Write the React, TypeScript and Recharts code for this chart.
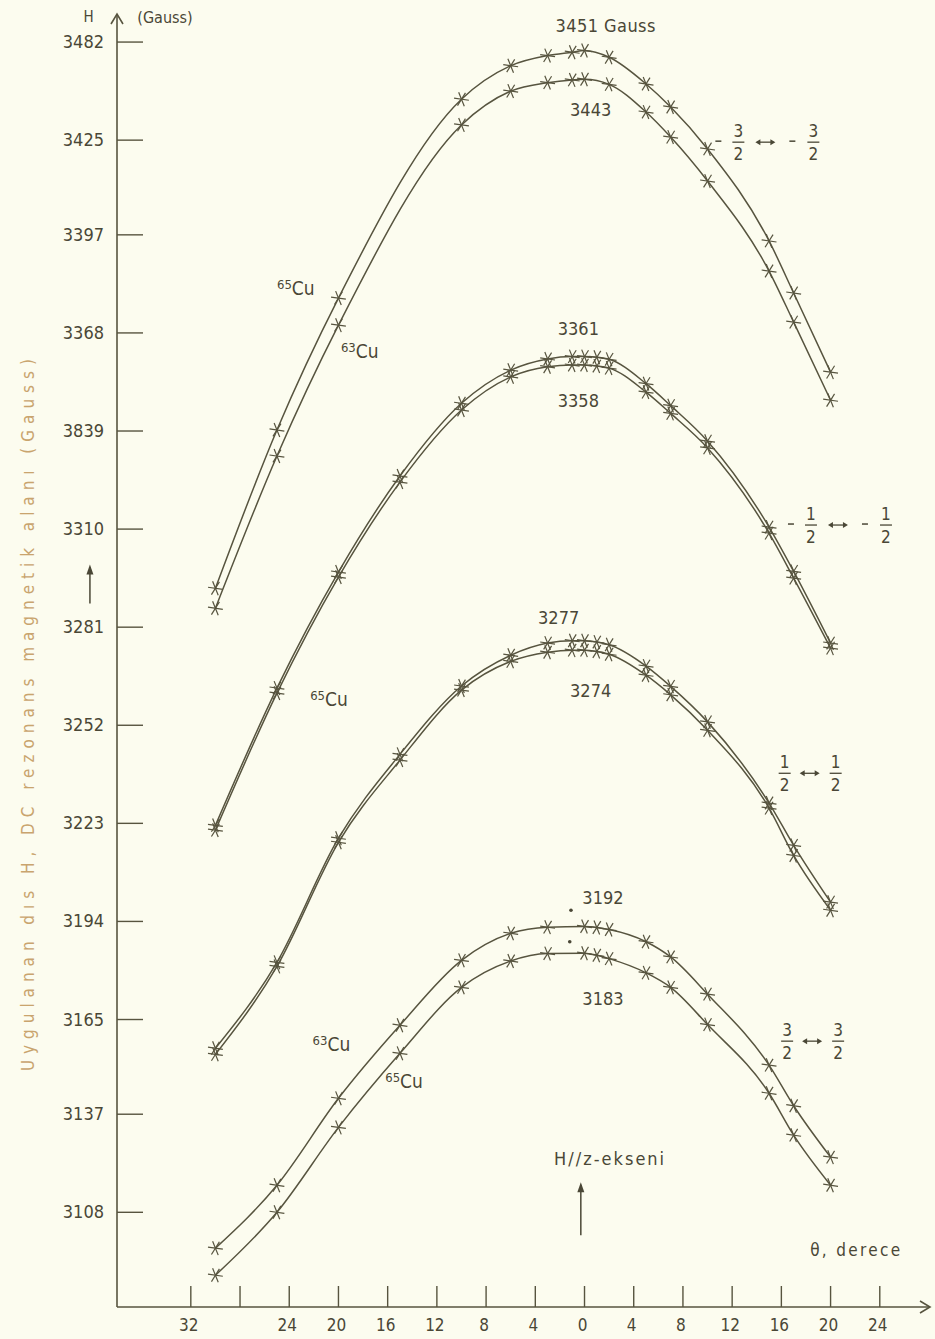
import React from 'react';
import { LineChart, Line, XAxis, YAxis, ReferenceDot } from 'recharts';

// ---- data (angle θ in degrees, resonance field H in Gauss) ----
const angles = [-30, -25, -20, -15, -10, -6, -3, -1, 0, 1, 2, 5, 7, 10, 15, 17, 20];

// -3/2 <-> -3/2 transition
const m32Upper = [3292.5, 3339.3, 3378.3, null, 3437.1, 3447.0, 3450.0, 3451.0, 3451.5, null, 3449.5, 3441.6, 3434.8, 3422.4, 3395.2, 3379.8, 3356.4];
const m32Lower = [3286.6, 3331.6, 3370.3, null, 3429.5, 3439.5, 3442.0, 3442.8, 3443.0, null, 3441.5, 3433.3, 3425.9, 3412.9, 3386.3, 3371.2, 3348.1];
// -1/2 <-> -1/2 transition
const m12Upper = [3222.4, 3263.0, 3297.3, 3325.7, 3347.2, 3357.0, 3360.3, 3361.0, 3361.0, 3360.8, 3360.2, 3353.0, 3346.5, 3336.0, 3310.6, 3297.5, 3276.3];
const m12Lower = [3221.0, 3261.5, 3295.8, 3323.9, 3345.2, 3355.0, 3358.0, 3358.5, 3358.5, 3358.2, 3357.6, 3350.5, 3344.2, 3334.0, 3308.8, 3295.5, 3274.8];
// 1/2 <-> 1/2 transition
const p12Upper = [3156.5, 3181.9, 3218.6, 3243.4, 3263.6, 3272.7, 3276.3, 3277.0, 3277.0, 3276.6, 3275.8, 3269.5, 3263.5, 3253.0, 3229.0, 3216.5, 3199.7];
const p12Lower = [3154.7, 3180.7, 3217.4, 3241.7, 3262.4, 3270.9, 3273.6, 3274.2, 3274.2, 3273.8, 3273.0, 3266.8, 3261.0, 3250.5, 3227.5, 3213.5, 3197.3];
// 3/2 <-> 3/2 transition
const p32Upper = [3097.4, 3116.0, 3141.7, 3163.3, 3182.5, 3190.5, 3192.3, null, 3192.5, 3192.2, 3191.6, 3188.0, 3183.5, 3172.5, 3151.5, 3139.5, 3124.3];
const p32Lower = [3089.4, 3108.0, 3133.1, 3155.0, 3174.5, 3182.3, 3184.5, null, 3184.6, 3184.0, 3183.0, 3178.8, 3174.5, 3163.5, 3143.2, 3130.8, 3116.0];

const xTickValues = [-32, -28, -24, -20, -16, -12, -8, -4, 0, 4, 8, 12, 16, 20, 24];
const xTickLabels = ['32', '', '24', '20', '16', '12', '8', '4', '0', '4', '8', '12', '16', '20', '24'];
const yTickValues = [3108, 3137, 3165, 3194, 3223, 3252, 3281, 3310, 3339, 3368, 3397, 3425, 3454];
const yTickLabels = ['3108', '3137', '3165', '3194', '3223', '3252', '3281', '3310', '3839', '3368', '3397', '3425', '3482'];

const seriesKeys = ['m32Upper', 'm32Lower', 'm12Upper', 'm12Lower', 'p12Upper', 'p12Lower', 'p32Upper', 'p32Lower'];
const seriesValues = [m32Upper, m32Lower, m12Upper, m12Lower, p12Upper, p12Lower, p32Upper, p32Lower];

const data = angles.map((a, i) => {
  const row: any = { angle: a };
  seriesKeys.forEach((k, j) => {
    row[k] = seriesValues[j][i];
  });
  return row;
});

// ---- styling ----
const FONT = "'DejaVu Sans Condensed', 'Liberation Sans Narrow', 'DejaVu Sans', sans-serif";
const INK = '#4a4736';
const LINE = '#57543f';
const BG = '#fcfcef';
const ORANGE = '#c9a46e';

const Star = (props: any) => {
  const { cx, cy, value, index } = props;
  if (cx == null || cy == null || value == null) return <g key={`n${index}`} />;
  const r = 7.5;
  const segs = [8, 68, 122].map((a) => {
    const rad = (a * Math.PI) / 180;
    return [cx - r * Math.cos(rad), cy - r * Math.sin(rad), cx + r * Math.cos(rad), cy + r * Math.sin(rad)];
  });
  return (
    <g key={`s${index}`}>
      {segs.map((s, i) => (
        <line key={i} x1={s[0]} y1={s[1]} x2={s[2]} y2={s[3]} stroke={LINE} strokeWidth={1.2} />
      ))}
    </g>
  );
};

const XTick = (props: any) => {
  const { x, y, payload } = props;
  const idx = xTickValues.indexOf(payload.value);
  return (
    <g>
      <line x1={x} y1={y} x2={x} y2={y - 21} stroke={LINE} strokeWidth={1.4} />
      <text x={x - 2} y={y + 24} textAnchor="middle" fontFamily={FONT} fontSize={17} fill={INK}>
        {idx >= 0 ? xTickLabels[idx] : ''}
      </text>
    </g>
  );
};

const YTick = (props: any) => {
  const { x, y, payload } = props;
  const idx = yTickValues.indexOf(payload.value);
  return (
    <g>
      <line x1={x} y1={y} x2={x + 26} y2={y} stroke={LINE} strokeWidth={1.4} />
      <text x={x - 13} y={y + 6} textAnchor="end" fontFamily={FONT} fontSize={18} fill={INK}>
        {idx >= 0 ? yTickLabels[idx] : ''}
      </text>
    </g>
  );
};

const txt = (s: string, size = 18, len?: number) => (p: any) => (
  <text
    x={p.cx}
    y={p.cy}
    textAnchor="middle"
    dominantBaseline="central"
    fontFamily={FONT}
    fontSize={size}
    fill={INK}
    {...(len ? { textLength: len, lengthAdjust: 'spacing' } : {})}
  >
    {s}
  </text>
);

const cu = (iso: string) => (p: any) => (
  <text x={p.cx} y={p.cy} fontFamily={FONT} fill={INK}>
    <tspan fontSize={13} dy={-6}>{iso}</tspan>
    <tspan fontSize={19} dy={6}>Cu</tspan>
  </text>
);

const frac = (x: number, num: string) => (
  <g>
    <text x={x} y={-5} textAnchor="middle" fontFamily={FONT} fontSize={17} fill={INK}>{num}</text>
    <line x1={x - 6} y1={0} x2={x + 6} y2={0} stroke={INK} strokeWidth={1.3} />
    <text x={x} y={18} textAnchor="middle" fontFamily={FONT} fontSize={17} fill={INK}>2</text>
  </g>
);

const dblArrow = (x: number) => (
  <g>
    <line x1={x - 8} y1={0} x2={x + 8} y2={0} stroke={INK} strokeWidth={1.3} />
    <path d={`M${x - 10},0 L${x - 5},-3 L${x - 5},3 Z`} fill={INK} />
    <path d={`M${x + 10},0 L${x + 5},-3 L${x + 5},3 Z`} fill={INK} />
  </g>
);

const minus = (x: number) => <line x1={x - 3} y1={-1} x2={x + 3} y2={-1} stroke={INK} strokeWidth={1.5} />;

const transition = (neg: boolean, num: string) => (p: any) => (
  <g transform={`translate(${p.cx},${p.cy})`}>
    {neg ? (
      <>
        {minus(-47)}
        {frac(-27, num)}
        {dblArrow(0)}
        {minus(27)}
        {frac(48, num)}
      </>
    ) : (
      <>
        {frac(-25, num)}
        {dblArrow(0)}
        {frac(26, num)}
      </>
    )}
  </g>
);

const upArrow = (len: number) => (p: any) => (
  <g>
    <line x1={p.cx} y1={p.cy} x2={p.cx} y2={p.cy - len} stroke={INK} strokeWidth={1.5} />
    <path d={`M${p.cx},${p.cy - len - 3} L${p.cx - 3.5},${p.cy - len + 7} L${p.cx + 3.5},${p.cy - len + 7} Z`} fill={INK} />
  </g>
);

const axisArrowUp = (p: any) => (
  <path d={`M${p.cx - 6},${p.cy + 9} L${p.cx},${p.cy - 1} L${p.cx + 6},${p.cy + 9}`} stroke={LINE} strokeWidth={1.6} fill="none" />
);
const axisArrowRight = (p: any) => (
  <path d={`M${p.cx - 9},${p.cy - 6} L${p.cx + 1},${p.cy} L${p.cx - 9},${p.cy + 6}`} stroke={LINE} strokeWidth={1.6} fill="none" />
);

const yLabel = (p: any) => (
  <text
    x={p.cx}
    y={p.cy}
    transform={`rotate(-90 ${p.cx} ${p.cy})`}
    textAnchor="middle"
    dominantBaseline="central"
    fontFamily={FONT}
    fontSize={17}
    fill={ORANGE}
    textLength={712}
    lengthAdjust="spacing"
  >
    Uygulanan dıs H, DC rezonans magnetik alanı (Gauss)
  </text>
);

const smallDot = (p: any) => <circle cx={p.cx} cy={p.cy} r={1.8} fill={INK} />;

type Ann = { x: number; y: number; shape: any };
const annotations: Ann[] = [
  { x: 1.7, y: 3459, shape: txt('3451 Gauss', 18, 100) },
  { x: 0.5, y: 3434, shape: txt('3443') },
  { x: -0.5, y: 3369.4, shape: txt('3361') },
  { x: -0.5, y: 3348.1, shape: txt('3358') },
  { x: -2.1, y: 3284, shape: txt('3277') },
  { x: 0.5, y: 3262.4, shape: txt('3274') },
  { x: 1.5, y: 3201.2, shape: txt('3192') },
  { x: 1.5, y: 3171.3, shape: txt('3183') },
  { x: -25.0, y: 3379.2, shape: cu('65') },
  { x: -19.8, y: 3360.5, shape: cu('63') },
  { x: -22.3, y: 3257.6, shape: cu('65') },
  { x: -22.1, y: 3155.6, shape: cu('63') },
  { x: -16.2, y: 3144.7, shape: cu('65') },
  { x: 14.7, y: 3424.4, shape: transition(true, '3') },
  { x: 20.6, y: 3311.2, shape: transition(true, '1') },
  { x: 18.3, y: 3237.8, shape: transition(false, '1') },
  { x: 18.5, y: 3158.6, shape: transition(false, '3') },
  { x: 2.0, y: 3124, shape: txt('H//z-ekseni', 18, 110) },
  { x: -0.3, y: 3101.2, shape: upArrow(50) },
  { x: 22, y: 3096.8, shape: txt('θ, derece', 17, 90) },
  { x: -40.2, y: 3288, shape: upArrow(36) },
  { x: -1.1, y: 3197.3, shape: smallDot },
  { x: -1.2, y: 3188.0, shape: smallDot },
  { x: -40.3, y: 3461.4, shape: txt('H', 15) },
  { x: -34.1, y: 3461.4, shape: txt('(Gauss)', 16) },
  { x: -45.2, y: 3255, shape: yLabel },
  { x: -38, y: 3462, shape: axisArrowUp },
  { x: 28, y: 3080, shape: axisArrowRight },
];

export default function App() {
  return (
    <div style={{ position: 'absolute', left: 0, top: 0, width: 935, height: 1339, background: BG }}>
      <LineChart width={935} height={1339} data={data} margin={{ top: 15, right: 6, bottom: 0, left: 0 }}>
        <XAxis
          type="number"
          dataKey="angle"
          domain={[-38, 28]}
          ticks={xTickValues}
          tick={<XTick />}
          tickLine={false}
          tickSize={0}
          tickMargin={0}
          height={32}
          axisLine={{ stroke: LINE, strokeWidth: 1.6 }}
          allowDataOverflow
        />
        <YAxis
          type="number"
          domain={[3080, 3462]}
          ticks={yTickValues}
          tick={<YTick />}
          tickLine={false}
          tickSize={0}
          tickMargin={0}
          width={117}
          axisLine={{ stroke: LINE, strokeWidth: 1.6 }}
          allowDataOverflow
        />
        {seriesKeys.map((k) => (
          <Line
            key={k}
            dataKey={k}
            type="monotone"
            stroke={LINE}
            strokeWidth={1.5}
            dot={(p: any) => <Star {...p} />}
            activeDot={false}
            connectNulls
            isAnimationActive={false}
          />
        ))}
        {annotations.map((a, i) => (
          <ReferenceDot key={i} x={a.x} y={a.y} r={1} ifOverflow="visible" shape={a.shape} />
        ))}
      </LineChart>
    </div>
  );
}
